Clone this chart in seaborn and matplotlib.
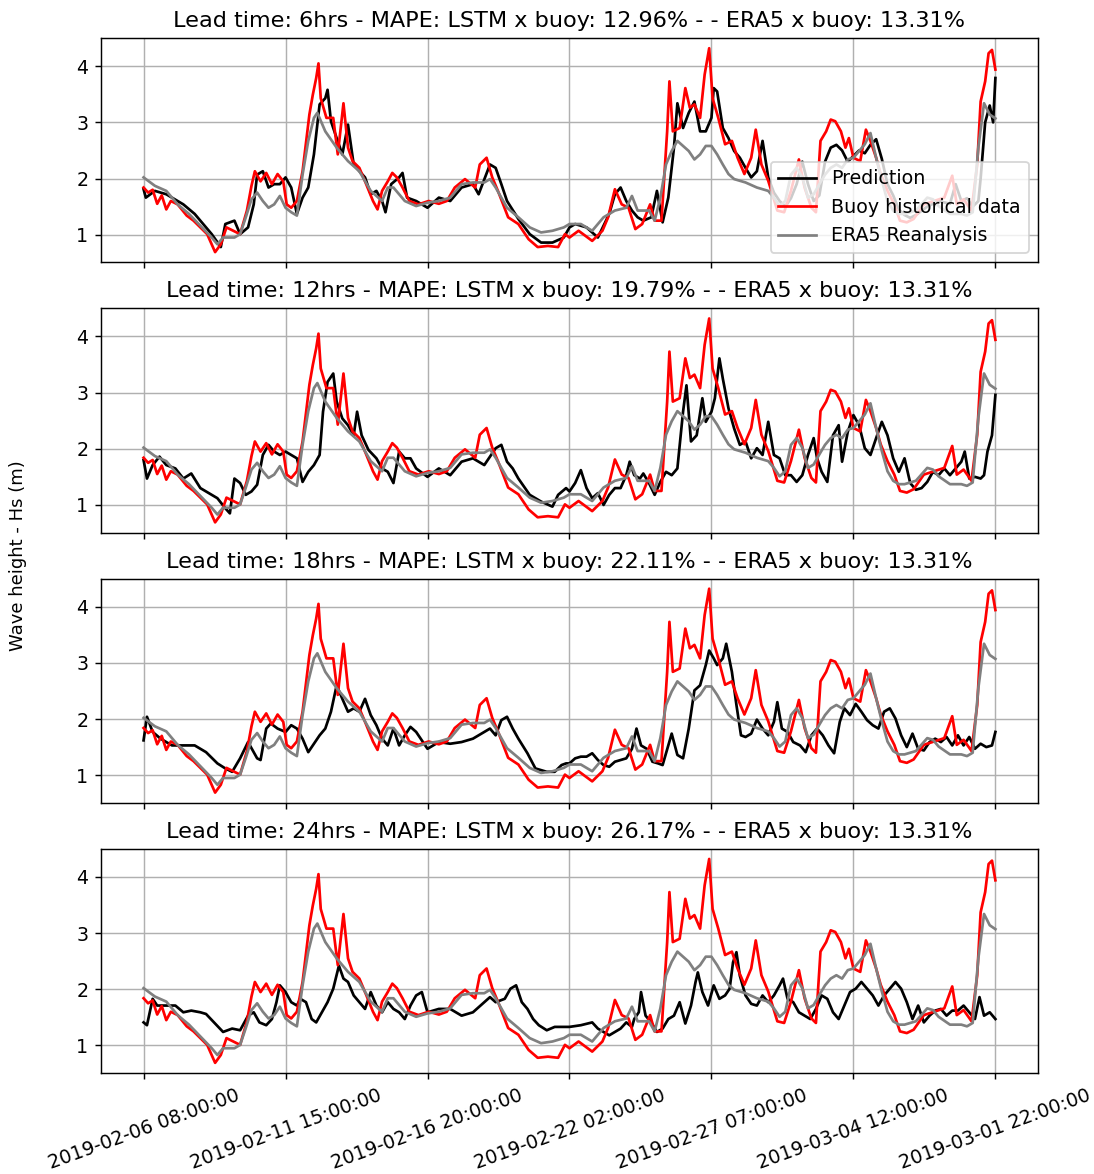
import numpy as np
import pandas as pd
import seaborn as sns
import matplotlib
matplotlib.use('Agg')
import matplotlib.pyplot as plt

# Values: (time step index, Hs in metres)

buoy = [(0, 1.84), (4, 1.75), (8, 1.8), (12, 1.55), (16, 1.7), (20, 1.45), (24, 1.6), (30, 1.54),
        (38, 1.34), (44, 1.25), (50, 1.13), (56, 1.01), (63, 0.69), (68, 0.83), (73, 1.13), (79, 1.07),
        (85, 1.01), (91, 1.43), (95, 1.87), (98, 2.13), (103, 1.95), (108, 2.1), (113, 1.9), (118, 2.08),
        (123, 1.95), (126, 1.54), (130, 1.48), (135, 1.6), (140, 2.13), (146, 3.14), (149, 3.49),
        (152, 3.79), (154, 4.05), (156, 3.43), (161, 3.08), (167, 3.08), (171, 2.43), (176, 3.34),
        (180, 2.55), (184, 2.31), (190, 2.19), (196, 1.9), (202, 1.6), (206, 1.45), (210, 1.78),
        (215, 1.95), (219, 2.1), (223, 2.02), (228, 1.84), (234, 1.6), (242, 1.54), (251, 1.6),
        (260, 1.55), (267, 1.6), (274, 1.84), (283, 1.99), (292, 1.84), (296, 2.25), (302, 2.37),
        (307, 2.02), (312, 1.78), (321, 1.31), (330, 1.19), (339, 0.92), (347, 0.78), (356, 0.8),
        (365, 0.78), (371, 1.01), (375, 0.95), (383, 1.07), (395, 0.89), (404, 1.07), (409, 1.31),
        (415, 1.81), (421, 1.54), (427, 1.48), (433, 1.1), (439, 1.19), (446, 1.54), (450, 1.25),
        (456, 1.25), (461, 2.84), (463, 3.73), (466, 2.84), (472, 2.9), (477, 3.61), (481, 3.26),
        (485, 3.32), (490, 3.08), (494, 3.85), (498, 4.32), (501, 3.43), (506, 3.08), (512, 2.61),
        (518, 2.67), (523, 2.37), (529, 2.08), (535, 2.37), (539, 2.87), (544, 2.25), (550, 1.96),
        (558, 1.43), (564, 1.4), (570, 1.78), (577, 2.34), (582, 1.84), (588, 1.48), (592, 1.4),
        (596, 2.67), (601, 2.84), (605, 3.05), (609, 3.02), (614, 2.84), (618, 2.55), (621, 2.72),
        (625, 2.37), (631, 2.31), (636, 2.87), (640, 2.67), (645, 2.37), (649, 2.08), (655, 1.78),
        (661, 1.54), (666, 1.25), (672, 1.22), (678, 1.28), (687, 1.54), (696, 1.6), (705, 1.66),
        (712, 2.05), (716, 1.54), (722, 1.63), (729, 1.43), (734, 2.25), (737, 3.37), (741, 3.73),
        (744, 4.23), (747, 4.29), (750, 3.94)]

era5 = [(0, 2.02), (10, 1.87), (20, 1.78), (30, 1.54), (40, 1.37), (50, 1.16), (60, 0.95), (65, 0.83),
        (70, 0.95), (80, 0.95), (85, 1.01), (90, 1.31), (95, 1.63), (100, 1.75), (105, 1.6), (110, 1.48),
        (115, 1.54), (120, 1.69), (125, 1.48), (130, 1.4), (135, 1.34), (140, 2.07), (145, 2.67),
        (150, 3.08), (153, 3.17), (160, 2.84), (170, 2.55), (180, 2.31), (190, 2.13), (200, 1.78),
        (210, 1.6), (215, 1.84), (220, 1.84), (230, 1.6), (240, 1.51), (250, 1.57), (260, 1.6),
        (270, 1.66), (280, 1.9), (290, 1.93), (300, 1.93), (305, 1.99), (310, 1.84), (320, 1.48),
        (330, 1.31), (340, 1.13), (350, 1.04), (360, 1.07), (370, 1.13), (375, 1.19), (385, 1.19),
        (395, 1.07), (405, 1.31), (415, 1.43), (425, 1.48), (430, 1.69), (435, 1.43), (445, 1.43),
        (450, 1.25), (455, 1.66), (460, 2.25), (465, 2.49), (470, 2.67), (475, 2.58), (480, 2.49),
        (485, 2.34), (490, 2.43), (495, 2.58), (500, 2.58), (505, 2.43), (510, 2.25), (515, 2.08),
        (520, 1.99), (530, 1.93), (540, 1.84), (550, 1.78), (555, 1.66), (560, 1.51), (565, 1.6),
        (570, 2.07), (575, 2.19), (580, 2.02), (585, 1.66), (590, 1.72), (595, 1.9), (600, 2.07),
        (605, 2.19), (610, 2.25), (615, 2.19), (620, 2.34), (625, 2.37), (630, 2.49), (635, 2.61),
        (640, 2.81), (645, 2.37), (650, 1.96), (655, 1.6), (660, 1.43), (665, 1.37), (670, 1.37),
        (680, 1.43), (690, 1.66), (695, 1.63), (700, 1.51), (710, 1.37), (720, 1.37), (725, 1.34),
        (730, 1.4), (735, 2.55), (740, 3.34), (745, 3.14), (750, 3.07)]

pred_6h = [(0, 1.81), (2, 1.66), (10, 1.78), (20, 1.72), (30, 1.6), (35, 1.54), (45, 1.37), (55, 1.13),
           (60, 1.01), (68, 0.78), (72, 1.19), (80, 1.25), (85, 1.01), (92, 1.13), (97, 1.54), (100, 2.07),
           (105, 2.13), (110, 1.84), (115, 1.9), (120, 1.9), (125, 2.02), (130, 1.84), (135, 1.37),
           (140, 1.66), (145, 1.84), (150, 2.43), (155, 3.32), (160, 3.43), (162, 3.58), (165, 3.02),
           (170, 2.72), (175, 2.43), (180, 2.96), (185, 2.25), (190, 2.13), (195, 2.02), (200, 1.72),
           (205, 1.78), (210, 1.6), (213, 1.4), (218, 1.9), (225, 2.02), (228, 2.1), (232, 1.66),
           (240, 1.6), (250, 1.48), (260, 1.66), (270, 1.6), (280, 1.84), (290, 1.9), (295, 1.72),
           (305, 2.25), (310, 2.19), (315, 1.9), (320, 1.6), (330, 1.28), (340, 1.01), (350, 0.86),
           (360, 0.86), (370, 0.95), (375, 1.13), (380, 1.19), (390, 1.13), (400, 0.95), (410, 1.37),
           (415, 1.72), (420, 1.84), (425, 1.6), (430, 1.43), (435, 1.31), (440, 1.25), (447, 1.31),
           (452, 1.78), (457, 1.22), (462, 1.66), (467, 2.55), (470, 3.34), (475, 2.9), (480, 3.17),
           (485, 3.37), (490, 2.84), (495, 2.84), (500, 3.08), (502, 3.61), (505, 3.55), (510, 2.9),
           (515, 2.72), (520, 2.49), (525, 2.37), (530, 2.19), (535, 2.02), (540, 2.13), (545, 2.67),
           (550, 2.02), (555, 1.75), (560, 1.6), (565, 1.5), (570, 1.65), (575, 1.9), (580, 2.3),
           (585, 1.9), (590, 1.6), (595, 1.7), (600, 2.3), (605, 2.55), (610, 2.6), (615, 2.5),
           (620, 2.3), (625, 2.4), (630, 2.5), (635, 2.45), (640, 2.6), (645, 2.7), (650, 2.35),
           (655, 1.9), (660, 1.7), (665, 1.45), (670, 1.35), (675, 1.3), (680, 1.35), (690, 1.5),
           (700, 1.6), (710, 1.55), (715, 1.9), (720, 1.6), (725, 1.65), (730, 1.5), (735, 1.6),
           (737, 2.0), (741, 3.0), (745, 3.3), (748, 3.0), (750, 3.79)]

pred_12h = [(0, 1.8), (3, 1.47), (8, 1.71), (14, 1.86), (20, 1.71), (28, 1.65), (35, 1.47), (42, 1.56),
            (50, 1.3), (60, 1.18), (65, 1.12), (72, 0.94), (76, 0.85), (80, 1.47), (85, 1.39), (90, 1.18),
            (95, 1.24), (100, 1.36), (105, 1.89), (110, 2.07), (115, 1.95), (120, 1.89), (125, 1.95),
            (130, 1.89), (135, 1.83), (140, 1.41), (145, 1.59), (150, 1.71), (155, 1.89), (158, 2.66),
            (162, 3.19), (167, 3.34), (170, 2.84), (175, 2.54), (180, 2.42), (185, 2.24), (188, 2.66),
            (192, 2.24), (198, 1.98), (205, 1.83), (210, 1.65), (215, 1.59), (220, 1.39), (225, 1.95),
            (230, 1.83), (235, 1.83), (240, 1.65), (250, 1.5), (260, 1.65), (270, 1.53), (280, 1.77),
            (290, 1.83), (300, 1.71), (310, 2.01), (315, 2.07), (320, 1.77), (325, 1.65), (330, 1.47),
            (340, 1.18), (350, 1.06), (360, 0.97), (365, 1.18), (372, 1.3), (375, 1.24), (380, 1.39),
            (385, 1.62), (390, 1.3), (395, 1.12), (400, 1.21), (405, 1.0), (410, 1.18), (415, 1.3),
            (420, 1.3), (425, 1.53), (428, 1.77), (432, 1.53), (437, 1.47), (440, 1.56), (445, 1.39),
            (450, 1.18), (455, 1.41), (460, 1.59), (465, 1.53), (470, 1.65), (475, 2.66), (478, 3.13),
            (482, 2.13), (487, 2.24), (492, 2.9), (495, 2.48), (500, 2.66), (503, 2.9), (507, 3.61),
            (510, 3.25), (515, 2.72), (520, 2.36), (525, 2.07), (530, 2.13), (535, 1.83), (540, 2.01),
            (545, 1.89), (550, 2.48), (555, 1.89), (560, 1.83), (565, 1.53), (570, 1.53), (575, 1.41),
            (580, 1.53), (585, 1.89), (590, 2.19), (593, 1.83), (597, 1.59), (602, 1.41), (607, 2.24),
            (612, 2.42), (615, 1.77), (620, 2.3), (625, 2.6), (630, 2.42), (635, 2.01), (640, 1.89),
            (645, 2.19), (650, 2.48), (655, 2.24), (660, 1.83), (665, 1.59), (670, 1.83), (675, 1.39),
            (680, 1.27), (685, 1.3), (690, 1.41), (695, 1.59), (700, 1.53), (705, 1.65), (710, 1.53),
            (715, 1.65), (720, 1.77), (723, 1.95), (727, 1.47), (732, 1.5), (737, 1.47), (740, 1.53),
            (743, 1.95), (747, 2.24), (750, 2.96)]

pred_18h = [(0, 1.62), (3, 2.04), (8, 1.77), (15, 1.65), (25, 1.53), (35, 1.53), (45, 1.53), (55, 1.41),
            (65, 1.21), (72, 1.12), (78, 1.06), (85, 1.3), (92, 1.59), (100, 1.3), (103, 1.27), (108, 1.83),
            (112, 1.92), (118, 1.83), (125, 1.77), (130, 1.89), (135, 1.83), (140, 1.65), (145, 1.41),
            (150, 1.56), (155, 1.71), (160, 1.83), (165, 2.13), (170, 2.6), (175, 2.36), (180, 2.13),
            (185, 2.19), (190, 2.13), (195, 2.36), (200, 2.07), (205, 1.89), (210, 1.65), (215, 1.53),
            (220, 1.83), (225, 1.53), (230, 1.71), (235, 1.86), (240, 1.77), (250, 1.47), (260, 1.59),
            (270, 1.56), (280, 1.59), (290, 1.65), (300, 1.77), (305, 1.83), (310, 1.71), (315, 1.98),
            (320, 2.04), (325, 1.83), (330, 1.65), (338, 1.39), (345, 1.12), (355, 1.06), (362, 1.06),
            (368, 1.18), (372, 1.21), (375, 1.21), (380, 1.3), (385, 1.33), (390, 1.33), (395, 1.39),
            (400, 1.27), (405, 1.18), (410, 1.15), (415, 1.24), (420, 1.27), (425, 1.3), (430, 1.47),
            (434, 1.83), (438, 1.53), (443, 1.47), (448, 1.24), (453, 1.21), (457, 1.18), (462, 1.53),
            (465, 1.74), (470, 1.36), (475, 1.3), (480, 1.83), (485, 2.51), (490, 2.6), (495, 2.96),
            (498, 3.22), (502, 3.08), (505, 2.96), (510, 3.08), (513, 3.34), (518, 2.84), (522, 2.25),
            (526, 1.71), (530, 1.68), (535, 1.74), (540, 1.99), (545, 1.83), (550, 1.71), (555, 1.95),
            (558, 2.3), (562, 1.83), (567, 1.77), (572, 1.59), (578, 1.53), (583, 1.41), (588, 1.71),
            (593, 1.83), (598, 1.71), (603, 1.53), (608, 1.39), (613, 1.95), (617, 2.19), (622, 2.07),
            (627, 2.27), (632, 2.13), (637, 1.98), (642, 1.89), (647, 1.83), (652, 2.13), (657, 2.19),
            (662, 2.01), (667, 1.71), (672, 1.5), (677, 1.74), (682, 1.47), (687, 1.44), (692, 1.59),
            (697, 1.65), (702, 1.59), (707, 1.68), (712, 1.53), (717, 1.71), (722, 1.53), (727, 1.68),
            (732, 1.47), (737, 1.56), (742, 1.5), (747, 1.53), (750, 1.77)]

pred_24h = [(0, 1.41), (3, 1.36), (8, 1.83), (12, 1.71), (20, 1.71), (28, 1.71), (35, 1.59), (42, 1.62),
            (50, 1.59), (55, 1.56), (62, 1.41), (70, 1.24), (78, 1.3), (85, 1.27), (92, 1.53), (97, 1.59),
            (102, 1.41), (108, 1.36), (113, 1.47), (117, 1.77), (120, 2.07), (125, 1.95), (130, 1.77),
            (135, 1.71), (138, 1.83), (143, 1.77), (148, 1.47), (152, 1.41), (157, 1.59), (162, 1.77),
            (167, 2.01), (172, 2.42), (176, 2.19), (180, 2.13), (185, 1.89), (190, 1.77), (195, 1.65),
            (200, 1.95), (205, 1.71), (210, 1.59), (215, 1.77), (220, 1.65), (225, 1.59), (230, 1.47),
            (235, 1.71), (240, 1.89), (245, 1.95), (250, 1.59), (260, 1.65), (270, 1.65), (280, 1.53),
            (290, 1.59), (300, 1.77), (305, 1.86), (310, 1.77), (318, 1.83), (323, 2.01), (328, 2.07),
            (333, 1.77), (338, 1.65), (343, 1.47), (348, 1.36), (355, 1.27), (362, 1.33), (370, 1.33),
            (375, 1.33), (385, 1.36), (395, 1.41), (400, 1.3), (405, 1.24), (410, 1.18), (415, 1.24),
            (420, 1.3), (425, 1.41), (430, 1.33), (432, 1.47), (436, 1.59), (438, 1.95), (442, 1.53),
            (447, 1.41), (452, 1.24), (457, 1.3), (462, 1.47), (467, 1.53), (472, 1.77), (477, 1.39),
            (482, 1.71), (486, 2.13), (488, 2.3), (492, 1.95), (497, 1.71), (502, 2.07), (507, 1.83),
            (512, 1.89), (516, 2.01), (519, 2.48), (522, 2.66), (525, 2.24), (530, 1.89), (535, 1.74),
            (540, 1.71), (545, 1.89), (550, 1.77), (555, 1.89), (560, 2.07), (563, 2.19), (567, 1.83),
            (572, 1.77), (577, 1.59), (582, 1.53), (587, 1.47), (592, 1.65), (597, 1.89), (602, 1.83),
            (607, 1.59), (612, 1.47), (617, 1.71), (622, 1.95), (627, 2.01), (632, 2.13), (637, 2.01),
            (642, 1.89), (647, 1.71), (652, 1.89), (657, 2.01), (662, 2.13), (667, 2.01), (672, 1.77),
            (677, 1.47), (682, 1.71), (687, 1.41), (692, 1.53), (697, 1.62), (702, 1.65), (707, 1.53),
            (712, 1.62), (717, 1.62), (722, 1.71), (727, 1.59), (732, 1.47), (736, 1.86), (740, 1.53),
            (745, 1.59), (750, 1.47)]

lead_times = ['6hrs', '12hrs', '18hrs', '24hrs']
mape_lstm = ['12.96%', '19.79%', '22.11%', '26.17%']
mape_era5 = ['13.31%', '13.31%', '13.31%', '13.31%']
predictions = [pred_6h, pred_12h, pred_18h, pred_24h]

tick_steps = [0, 125, 250, 375, 500, 625, 750]
tick_labels = ['2019-02-06 08:00:00', '2019-02-11 15:00:00', '2019-02-16 20:00:00',
               '2019-02-22 02:00:00', '2019-02-27 07:00:00', '2019-03-04 12:00:00',
               '2019-03-01 22:00:00']

buoy_df = pd.DataFrame(buoy, columns=['step', 'hs'])
era5_df = pd.DataFrame(era5, columns=['step', 'hs'])

# slightly larger text than matplotlib defaults, to match the reference
plt.rcParams['font.size'] = 10.5
plt.rcParams['axes.titlesize'] = 12.4

dpi = 130
fig, axes = plt.subplots(4, 1, sharex=True, figsize=(1094 / dpi, 1174 / dpi), dpi=dpi)
fig.subplots_adjust(left=0.0923, right=0.9488, top=0.9676, bottom=0.086, hspace=0.205)

for i, ax in enumerate(axes):
    pred_df = pd.DataFrame(predictions[i], columns=['step', 'hs'])
    first = (i == 0)
    sns.lineplot(data=pred_df, x='step', y='hs', color='black', ax=ax,
                 label='Prediction' if first else None, legend=first)
    sns.lineplot(data=buoy_df, x='step', y='hs', color='red', ax=ax,
                 label='Buoy historical data' if first else None, legend=first)
    sns.lineplot(data=era5_df, x='step', y='hs', color='gray', ax=ax,
                 label='ERA5 Reanalysis' if first else None, legend=first)
    ax.set_title(f'Lead time: {lead_times[i]} - MAPE: LSTM x buoy: {mape_lstm[i]} - - '
                 f'ERA5 x buoy: {mape_era5[i]}')
    ax.grid(True)
    ax.set_xlabel('')
    ax.set_ylabel('')
    ax.set_yticks([1, 2, 3, 4])
    if first:
        ax.legend(loc='lower right')

axes[-1].set_xticks(tick_steps)
axes[-1].set_xticklabels(tick_labels, rotation=20)

fig.text(0.016, 0.527, 'Wave height - Hs (m)', rotation=90, va='center', ha='center', fontsize=10)

plt.savefig('out.png', dpi=dpi)
